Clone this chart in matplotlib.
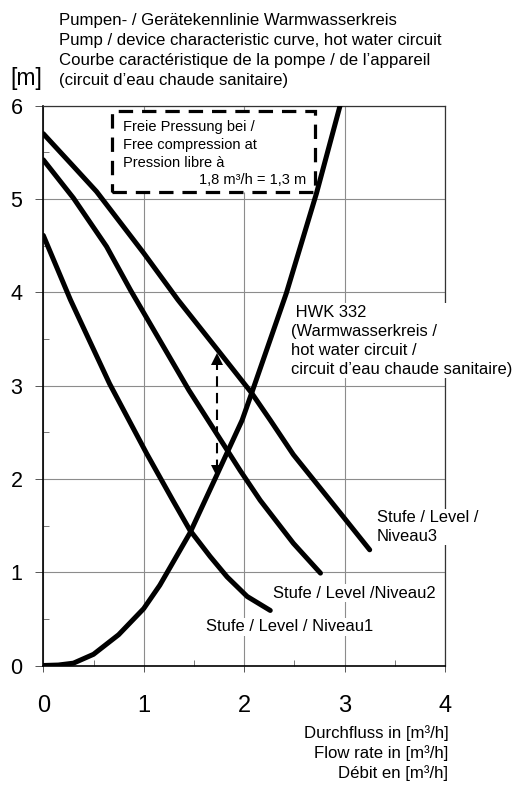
import numpy as np
import matplotlib as mpl
mpl.use('Agg')
from matplotlib import pyplot as plt
from matplotlib.patches import Rectangle

# values
# flow [m3/h] / head [m]
level1_x = [0.0, 0.27, 0.365, 0.66, 1.03, 1.29, 1.46, 1.66, 1.83, 2.03, 2.26]
level1_y = [4.61, 3.92, 3.70, 3.02, 2.27, 1.77, 1.45, 1.17, 0.95, 0.74, 0.59]

level2_x = [0.0, 0.30, 0.63, 0.87, 1.45, 1.83, 1.96, 2.16, 2.49, 2.76]
level2_y = [5.42, 5.01, 4.49, 4.02, 2.95, 2.31, 2.09, 1.77, 1.31, 0.99]

level3_x = [0.0, 0.30, 0.53, 1.0, 1.34, 1.76, 2.075, 2.26, 2.49, 2.99, 3.25]
level3_y = [5.70, 5.35, 5.08, 4.42, 3.92, 3.35, 2.92, 2.63, 2.26, 1.59, 1.24]

system_x = [0.0, 0.15, 0.3, 0.5, 0.75, 1.0, 1.16, 1.46, 1.71, 1.98, 2.075,
            2.42, 2.72, 2.955]
system_y = [0.0, 0.005, 0.025, 0.12, 0.33, 0.61, 0.86, 1.42, 2.00, 2.63, 2.92,
            3.99, 5.06, 6.00]

# free pressure marker at 1.8 m3/h
arrow_x = 1.727
arrow_y = (2.02, 3.35)

xticks = [0, 1, 2, 3, 4]
yticks = [0, 1, 2, 3, 4, 5, 6]

title_lines = ['Pumpen- / Gerätekennlinie Warmwasserkreis',
               'Pump / device characteristic curve, hot water circuit',
               'Courbe caractéristique de la pompe / de l’appareil',
               '(circuit d’eau chaude sanitaire)']
xlabel_lines = ['Durchfluss in [m³/h]', 'Flow rate in [m³/h]', 'Débit en [m³/h]']

plt.rcParams['font.family'] = ['Liberation Sans', 'DejaVu Sans']

W, H = 517, 785
f = plt.figure(figsize = (W / 100.0, H / 100.0), dpi = 100)
ax = f.add_axes([43.3 / W, 1 - 665.5 / H, (445.0 - 43.3) / W, (665.5 - 105.7) / H])

ax.set_xlim(0, 4)
ax.set_ylim(0, 6)
ax.set_xticks(xticks)
ax.set_yticks(yticks)
ax.set_xticks(np.arange(0.5, 4, 1.0), minor = True)
ax.set_yticks(np.arange(0.5, 6, 1.0), minor = True)
ax.set_xticklabels([str(t) for t in xticks], fontsize = 17)
ax.set_yticklabels([str(t) for t in yticks], fontsize = 15.5)
ax.tick_params(axis = 'x', which = 'major', direction = 'out', length = 4.5,
               width = 0.7, pad = 17, color = '#555555')
ax.tick_params(axis = 'y', which = 'major', direction = 'out', length = 6,
               width = 0.7, pad = 9, color = '#555555')
ax.tick_params(which = 'minor', direction = 'in', length = 4.5, width = 0.7,
               color = '#777777')

ax.grid(True, which = 'major', color = '#8c8c8c', linewidth = 0.8)
ax.set_axisbelow(True)
for side in ['left', 'bottom']:
    ax.spines[side].set_linewidth(1.2)
for side in ['top', 'right']:
    ax.spines[side].set_linewidth(0.9)
    ax.spines[side].set_color('#333333')

# dashed info box
box = Rectangle((0.68, 5.07), 2.03, 0.87, facecolor = 'white',
                edgecolor = 'black', linewidth = 2.3, linestyle = (0, (4.5, 2.8)),
                zorder = 3)
ax.add_patch(box)
box_lines = ['Freie Pressung bei /', 'Free compression at', 'Pression libre à']
for i, s in enumerate(box_lines):
    ax.text(0.795, 5.77 - i * 0.19, s, fontsize = 10.5, va = 'center',
            ha = 'left', zorder = 4)
ax.text(2.62, 5.20, '1,8 m³/h = 1,3 m', fontsize = 10.5, va = 'center',
        ha = 'right', zorder = 4)

# curves
lw = 3.6
for xs, ys in [(level1_x, level1_y), (level2_x, level2_y),
               (level3_x, level3_y), (system_x, system_y)]:
    ax.plot(xs, ys, color = 'black', lw = lw, solid_capstyle = 'round',
            solid_joinstyle = 'round', zorder = 5, clip_on = True)

# double headed dashed arrow
ax.plot([arrow_x, arrow_x], [arrow_y[0] + 0.08, arrow_y[1] - 0.08],
        color = 'black', lw = 1.5, linestyle = (0, (5, 3)), zorder = 6)
ax.plot([arrow_x], [arrow_y[1] - 0.06], marker = '^', color = 'black',
        markersize = 8, markeredgewidth = 0, zorder = 6)
ax.plot([arrow_x], [arrow_y[0] + 0.06], marker = 'v', color = 'black',
        markersize = 8, markeredgewidth = 0, zorder = 6)

# curve labels
lab = dict(fontsize = 11.9, va = 'center', ha = 'left', zorder = 4,
           bbox = dict(facecolor = 'white', edgecolor = 'none', pad = 1.0))
ax.text(2.47, 3.48, ' HWK 332\n(Warmwasserkreis /\nhot water circuit /\ncircuit d’eau chaude sanitaire)',
        linespacing = 1.35, clip_on = False, **lab)
ax.text(3.32, 1.485, 'Stufe / Level /\nNiveau3', linespacing = 1.35, **lab)
ax.text(2.29, 0.774, 'Stufe / Level /Niveau2', **lab)
ax.text(1.617, 0.416, 'Stufe / Level / Niveau1', **lab)

# titles and axis labels in figure pixels
for i, s in enumerate(title_lines):
    f.text(58.7 / W, 1 - (20 + i * 20.3) / H, s, fontsize = 12.1,
           va = 'center', ha = 'left')
f.text(10 / W, 1 - 78 / H, '[m]', fontsize = 16.5, va = 'center', ha = 'left')
for i, s in enumerate(xlabel_lines):
    f.text(448.3 / W, 1 - (733.3 + i * 20.0) / H, s, fontsize = 12.1,
           va = 'center', ha = 'right')

f.savefig('out.png', dpi = 100)
